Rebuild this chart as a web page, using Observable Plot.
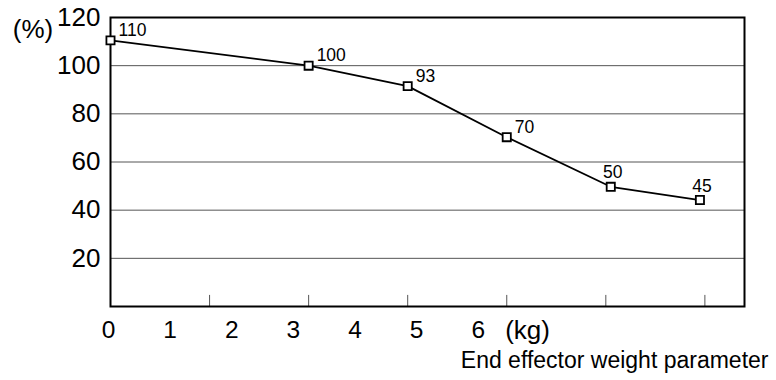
<!DOCTYPE html>
<html><head><meta charset="utf-8">
<script src="https://cdn.jsdelivr.net/npm/d3@7"></script>
<script src="https://cdn.jsdelivr.net/npm/@observablehq/plot@0.6"></script>
<style>body{margin:0;background:#fff} svg{font-family:"Liberation Sans",Arial,sans-serif}</style>
</head><body><div id="chart"></div>
<script>
// x positions of points in tick-slot units (the tick marks sit at slots 0..6)
const pointSlots = [0, 2, 3, 4, 5.05, 5.95];
const values = [110.5, 100, 91.5, 70.3, 49.7, 44.2];
const valueLabels = ["110", "100", "93", "70", "50", "45"];
const xTickLabels = ["0", "1", "2", "3", "4", "5", "6"];
const yTicks = [20, 40, 60, 80, 100, 120];
const gridValues = [20, 40, 60, 80, 100];
const tickSlots = [1, 2, 3, 4, 5, 6];
const unitX = "(kg)";
const unitY = "(%)";
const xTitle = "End effector weight parameter";

const pts = pointSlots.map((s, i) => ({s, v: values[i], label: valueLabels[i], i}));
const labelStep = 0.622; // spacing of the bottom labels relative to tick slots

const chart = Plot.plot({
  width: 776, height: 380,
  marginLeft: 110, marginRight: 32, marginTop: 17, marginBottom: 74,
  style: {fontFamily: '"Liberation Sans", Arial, sans-serif', background: "white", overflow: "visible"},
  x: {domain: [0, 6.4], axis: null},
  y: {domain: [0, 120], axis: null},
  marks: [
    Plot.ruleY(gridValues, {stroke: "#555", strokeWidth: 1}),
    Plot.ruleX(tickSlots, {y1: 0, y2: 4.6, stroke: "#555", strokeWidth: 1}),
    Plot.frame({stroke: "black", strokeWidth: 2}),
    Plot.axisY(yTicks, {tickSize: 0, tickPadding: 10, fontSize: 26, label: null, color: "black"}),
    Plot.text(xTickLabels, {x: (d, i) => i * labelStep - 0.02, y: () => 0, dy: 24, fontSize: 24.5, fill: "black"}),
    Plot.text([unitX], {x: () => 4.21, y: () => 0, dy: 24, fontSize: 26, fill: "black"}),
    Plot.text([unitY], {frameAnchor: "top-left", textAnchor: "middle", lineAnchor: "middle", dx: -77.5, dy: 11.7, fontSize: 26, fill: "black"}),
    Plot.text([xTitle], {frameAnchor: "bottom-right", textAnchor: "end", lineAnchor: "middle", dx: 24, dy: 54.6, fontSize: 23, fill: "black"}),
    Plot.line(pts, {x: "s", y: "v", stroke: "black", strokeWidth: 1.8}),
    Plot.dot(pts, {x: "s", y: "v", symbol: "square", r: 4.6, fill: "white", stroke: "black", strokeWidth: 1.8}),
    Plot.text(pts.filter(d => d.i < 4), {x: "s", y: "v", text: "label", textAnchor: "start", dx: 8, dy: -10, fontSize: 17.5, fill: "black"}),
    Plot.text(pts.filter(d => d.i >= 4), {x: "s", y: "v", text: "label", textAnchor: "middle", dx: 2, dy: -14, fontSize: 17.5, fill: "black"})
  ]
});
document.getElementById("chart").append(chart);
</script>
</body></html>
